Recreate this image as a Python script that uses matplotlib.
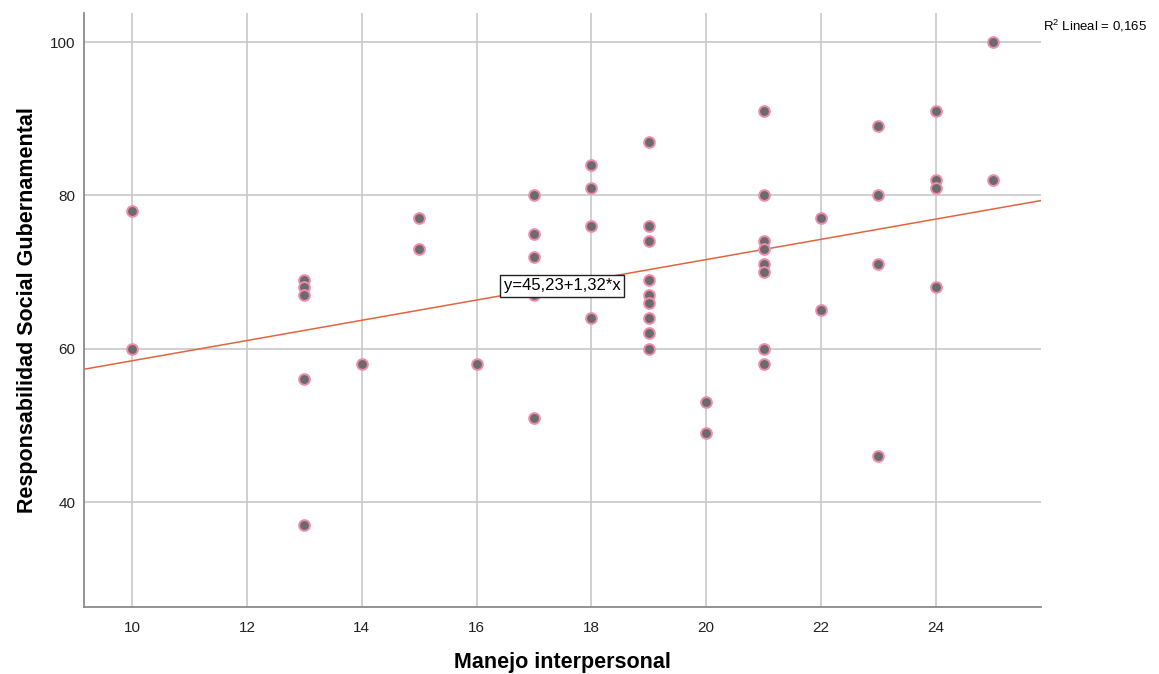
import numpy as np
import matplotlib
matplotlib.use("Agg")
import matplotlib.pyplot as plt

plt.rcParams['font.family'] = ['Liberation Sans', 'DejaVu Sans']
plt.rcParams['mathtext.fontset'] = 'custom'
plt.rcParams['mathtext.rm'] = 'Liberation Sans'

# data (Manejo interpersonal vs Responsabilidad Social Gubernamental)
manejo = [10, 10,
          13, 13, 13, 13, 13,
          14,
          15, 15,
          16,
          17, 17, 17, 17, 17,
          18, 18, 18, 18,
          19, 19, 19, 19, 19, 19, 19, 19, 19,
          20, 20,
          21, 21, 21, 21, 21, 21, 21, 21,
          22, 22,
          23, 23, 23, 23,
          24, 24, 24, 24,
          25, 25]
responsabilidad = [78, 60,
                   69, 68, 67, 56, 37,
                   58,
                   77, 73,
                   58,
                   80, 75, 72, 67, 51,
                   84, 81, 76, 64,
                   87, 76, 74, 69, 67, 66, 64, 62, 60,
                   53, 49,
                   91, 80, 74, 73, 71, 70, 60, 58,
                   77, 65,
                   89, 80, 71, 46,
                   91, 82, 81, 68,
                   100, 82]

intercept = 45.23
slope = 1.32
r2_text = "R$^{2}$ Lineal = 0,165"
eq_text = "y=45,23+1,32*x"

fig = plt.figure(figsize=(11.59, 6.74), dpi=100)
ax = fig.add_axes([0.0725, 0.0994, 0.8255, 0.8813])

xmin, xmax = 9.16, 25.83
ax.set_xlim(xmin, xmax)
ax.set_ylim(26.3, 103.8)

# grid
ax.set_xticks(np.arange(10, 25, 2))
ax.set_yticks([40, 60, 80, 100])
ax.grid(True, color='#c8c8c8', linewidth=1.2)
ax.set_axisbelow(True)
ax.tick_params(length=0, labelsize=11, colors='#222222')
ax.tick_params(axis='x', pad=10)
ax.tick_params(axis='y', pad=6)

for s in ['top', 'right']:
    ax.spines[s].set_visible(False)
for s in ['left', 'bottom']:
    ax.spines[s].set_color('#8a8a8a')
    ax.spines[s].set_linewidth(1.3)

# fit line
xs = np.array([xmin, xmax])
ax.plot(xs, intercept + slope * xs, color='#e2643f', linewidth=1.1, zorder=2)

ax.scatter(manejo, responsabilidad, s=60, facecolor='#6b6b6b',
           edgecolor='#f28bb0', linewidth=1.4, zorder=3)

ax.text(17.49, 68.2, eq_text, ha='center', va='center', fontsize=12,
        bbox=dict(boxstyle='square,pad=0.2', facecolor='white',
                  edgecolor='#222222', linewidth=1.0), zorder=4)

fig.text(0.9, 0.962, r2_text, fontsize=9.5, ha='left', va='center')

ax.set_xlabel("Manejo interpersonal", fontsize=15.5, fontweight='bold', labelpad=12)
ax.set_ylabel("Responsabilidad Social Gubernamental", fontsize=15.5,
              fontweight='bold', labelpad=9)

fig.savefig("out.png", dpi=100)
